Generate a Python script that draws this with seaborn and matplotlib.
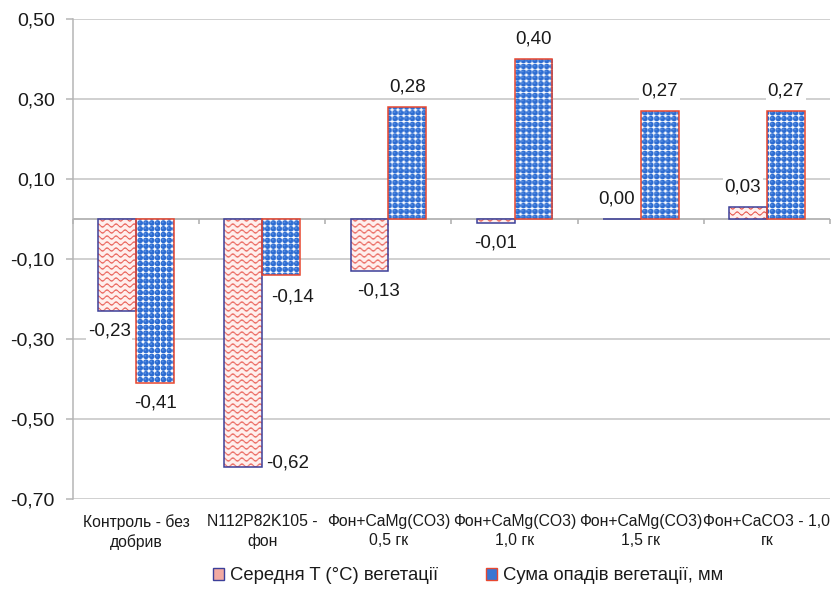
import numpy as np
import pandas as pd
import matplotlib
matplotlib.use("Agg")
import matplotlib.pyplot as plt
import seaborn as sns
from matplotlib.patches import Patch

# ---- data ----
categories = [
    "Контроль - без\nдобрив",
    "N112P82K105 -\nфон",
    "Фон+CaMg(CO3)\n0,5 гк",
    "Фон+CaMg(CO3)\n1,0 гк",
    "Фон+CaMg(CO3)\n1,5 гк",
    "Фон+CaCO3 - 1,0\nгк",
]
series_names = ["Середня T (°C) вегетації", "Сума опадів вегетації, мм"]
temp_values = [-0.23, -0.62, -0.13, -0.01, 0.00, 0.03]
precip_values = [-0.41, -0.14, 0.28, 0.40, 0.27, 0.27]
y_ticks = [-0.70, -0.50, -0.30, -0.10, 0.10, 0.30, 0.50]

sns.set_theme(style="white")
plt.rcParams["font.family"] = ["Liberation Sans", "DejaVu Sans"]

TEXT = "#1a1a1a"
GRID = "#c4c4c4"
RED = np.array([228, 66, 56]) / 255.0
BLUE = np.array([44, 108, 210]) / 255.0
EDGE_TEMP = "#3c3f99"
EDGE_PREC = "#e8472f"

df = pd.DataFrame({
    "category": categories * 2,
    "series": [series_names[0]] * len(categories) + [series_names[1]] * len(categories),
    "value": temp_values + precip_values,
})

W_PX, H_PX = 757, 480
fig = plt.figure(figsize=(8.31, 5.9), dpi=100)
ax = fig.add_axes([73 / 831, 1 - 499 / 590, W_PX / 831, H_PX / 590])

sns.barplot(data=df, x="category", y="value", hue="series", order=categories,
            hue_order=series_names, width=0.6, errorbar=None, legend=False,
            palette=["#f2aaa2", "#3a76d2"], ax=ax, zorder=3)

XLIM = (-0.5, len(categories) - 0.5)
YLIM = (-0.70, 0.50)


# ---- fill textures (pixel-sized, cover the whole axes) ----
def wave_texture(h, w):
    yy, xx = np.mgrid[0:h, 0:w].astype(float)
    phase = (yy + 1.5 * np.sin(2 * np.pi * xx / 9.0)) % 6.0
    d = np.abs(phase - 3.0)
    a = np.clip(1.2 - d, 0, 1)[..., None] * 0.85
    pink = np.array([1.0, 0.94, 0.93])
    return (1 - a) * pink + a * RED


def dot_texture(h, w):
    yy, xx = np.mgrid[0:h, 0:w].astype(float)
    p = 5.8
    fx = (xx % p) - p / 2
    fy = (yy % p) - p / 2
    d = np.hypot(fx, fy)
    a = np.clip(3.3 - d, 0, 1)[..., None]
    hl = np.clip(1.4 - np.hypot(fx + 0.7, fy - 0.7), 0, 1)[..., None] * 0.3
    col = BLUE * (1 - hl) + hl * np.array([0.78, 0.88, 1.0])
    return (1 - a) * 1.0 + a * col


textures = [wave_texture(H_PX, W_PX), dot_texture(H_PX, W_PX)]
edges = [EDGE_TEMP, EDGE_PREC]

for k, cont in enumerate(ax.containers):
    for bar in cont:
        bar.set_facecolor("none")
        bar.set_edgecolor(edges[k])
        bar.set_linewidth(1.1)
        bar.set_zorder(3)
        im = ax.imshow(textures[k], extent=(*XLIM, *YLIM), origin="lower",
                       aspect="auto", interpolation="bilinear", zorder=2.5)
        im.set_clip_path(bar)

ax.set_xlim(*XLIM)
ax.set_ylim(*YLIM)

# ---- axes styling ----
ax.set_yticks(y_ticks)
ax.set_yticklabels([f"{t:.2f}".replace(".", ",") for t in y_ticks])
ax.yaxis.grid(True, color=GRID, lw=1.1, zorder=0)
ax.set_axisbelow(True)
for s in ["top", "right", "bottom"]:
    ax.spines[s].set_visible(False)
ax.spines["left"].set_color("#b5b5b5")
ax.spines["left"].set_linewidth(1.1)
ax.tick_params(axis="y", length=5, width=1.1, color="#b5b5b5", pad=8,
               labelsize=14, labelcolor=TEXT, left=True)
ax.tick_params(axis="x", length=0, pad=11, labelsize=11.3, labelcolor=TEXT)
for lab in ax.get_xticklabels():
    lab.set_linespacing(1.3)
ax.set_xlabel("")
ax.set_ylabel("")

# zero line with category-boundary ticks
ax.axhline(0, color="#acacac", lw=1.2, zorder=1.5)
ax.vlines(np.arange(len(categories) + 1) - 0.5, -0.0125, 0, color="#acacac",
          lw=1.1, zorder=1.5, clip_on=False)

# ---- value labels ----
label_shift = {(0, 0): (-8, 0), (0, 1): (44, 24), (1, 1): (11, -2),
               (0, 2): (9, 0), (0, 4): (-5, 0), (0, 5): (-5, 0)}
series_vals = [temp_values, precip_values]
for k, cont in enumerate(ax.containers):
    for j, bar in enumerate(cont):
        v = series_vals[k][j]
        dx, dy = label_shift.get((k, j), (0, 0))
        base = 20 if v >= 0 else -20
        ax.annotate(f"{v:.2f}".replace(".", ","),
                    xy=(bar.get_x() + bar.get_width() / 2, v),
                    xytext=(dx, base + dy), textcoords="offset pixels",
                    ha="center", va="center", fontsize=13.5, color=TEXT,
                    bbox=dict(boxstyle="square,pad=0.1", fc="white", ec="none"),
                    zorder=6)

# ---- legend ----
handles = [Patch(facecolor="#f2aaa2", edgecolor=EDGE_TEMP, lw=1.0),
           Patch(facecolor="#3a76d2", edgecolor=EDGE_PREC, lw=1.0)]
fig.legend(handles, series_names, loc="center",
           bbox_to_anchor=(468 / 831, 1 - 576 / 590), ncol=2, frameon=False,
           fontsize=13.3, handlelength=0.6, handleheight=0.6,
           handletextpad=0.3, columnspacing=2.6, labelcolor=TEXT)

fig.savefig("out.png", dpi=100)
